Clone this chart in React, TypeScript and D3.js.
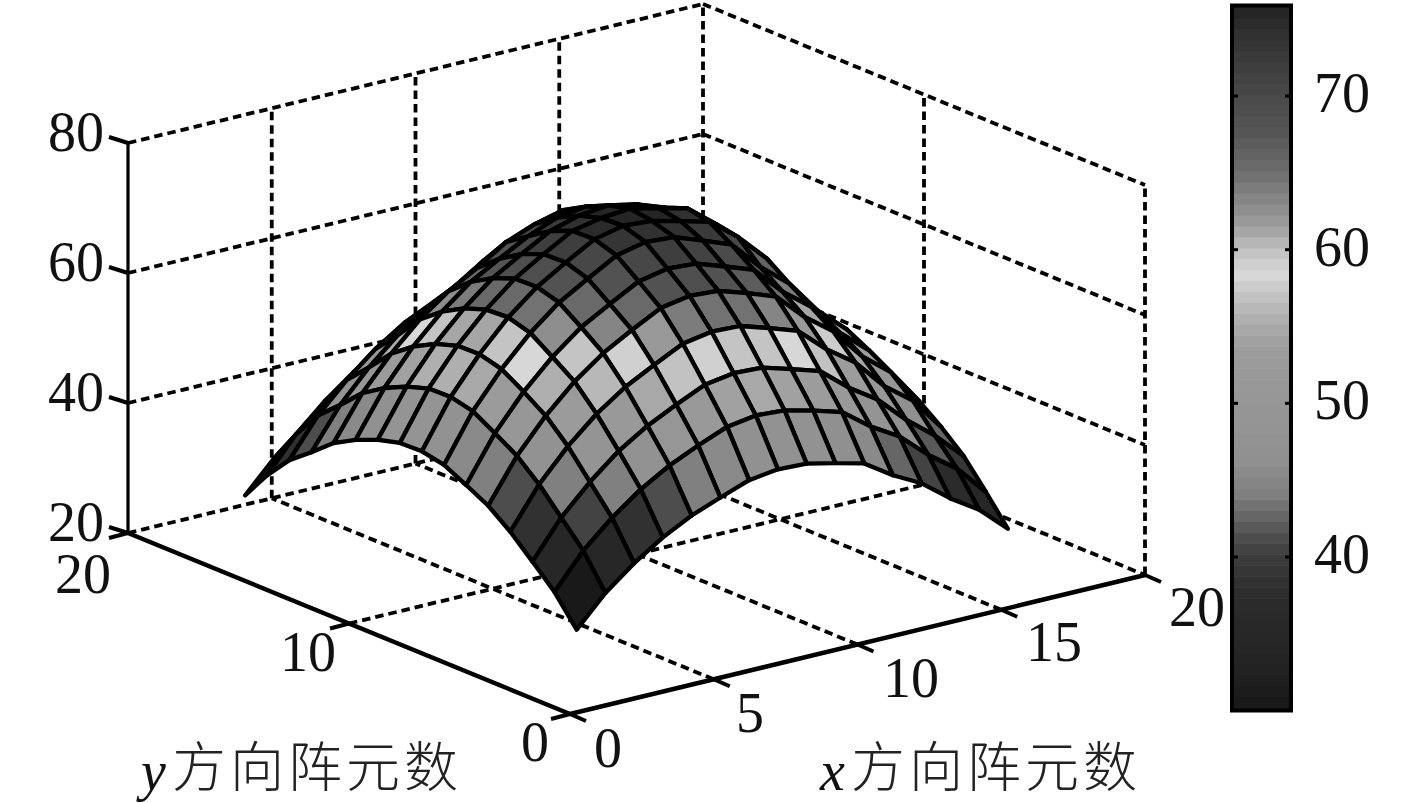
import React from "react";
import * as d3 from "d3";

const W = 1417, H = 803;

// Surface heights: rows are y = 1..16, columns are x = 1..16
const heights: number[][] = [
  [30.5,35.1,38.6,41.5,43.8,45.5,47.1,47.7,47.5,46.5,45.4,42.5,40.2,36.8,34.0,30.0],
  [34.9,40.2,44.2,47.5,50.1,52.1,53.9,54.6,54.3,53.2,51.9,48.6,46.0,42.1,38.9,34.3],
  [38.2,43.9,48.3,52.0,54.8,57.0,59.0,59.7,59.5,58.2,56.8,53.2,50.3,46.1,42.6,38.4],
  [41.4,47.6,52.4,56.3,59.4,61.7,63.9,64.7,64.5,63.1,61.6,57.7,54.6,49.9,46.6,41.4],
  [44.0,50.6,55.7,59.9,63.2,65.7,68.0,68.8,68.5,67.1,65.5,61.3,58.0,53.1,49.6,44.0],
  [45.8,52.7,58.0,62.3,65.8,68.3,70.7,71.6,71.3,69.8,68.2,63.8,60.4,55.3,51.6,46.0],
  [47.5,54.7,60.1,64.6,68.2,70.8,73.3,74.3,74.0,72.4,70.7,66.2,62.6,57.3,53.4,47.5],
  [48.2,55.5,61.0,65.6,69.2,71.9,74.4,75.4,75.1,74.0,72.8,69.4,65.0,58.1,53.7,48.0],
  [48.1,55.4,60.9,65.4,69.1,71.8,74.3,75.2,75.6,74.6,73.5,70.0,65.4,58.0,53.6,47.3],
  [47.2,54.3,59.8,64.2,67.8,70.4,72.9,74.2,74.7,73.8,72.2,69.2,64.7,57.0,52.6,46.4],
  [45.8,52.7,58.0,62.3,65.8,68.3,70.7,72.5,73.1,72.1,70.7,67.1,62.4,55.3,51.1,45.1],
  [43.9,50.5,55.5,59.7,63.0,65.5,68.4,70.1,71.2,70.2,68.3,64.0,57.8,53.0,48.9,43.2],
  [41.1,47.3,52.0,55.9,59.0,61.3,64.2,65.4,66.4,67.0,64.8,59.3,54.2,49.6,45.8,40.4],
  [38.5,44.3,48.7,52.4,55.3,57.4,59.4,61.2,61.7,61.0,59.3,53.6,50.7,46.4,42.9,37.9],
  [34.8,40.0,44.0,47.4,50.0,51.9,53.7,54.4,54.2,53.1,51.8,48.5,45.9,42.0,38.8,34.2],
  [30.3,34.9,38.3,41.2,43.5,45.2,46.8,47.4,47.2,46.2,45.1,42.2,39.9,36.5,33.8,29.8],
];

const xTicks = [0, 5, 10, 15, 20];
const yTicks = [0, 10, 20];
const zTicks = [20, 40, 60, 80];
const colorbarTicks = [40, 50, 60, 70];
const xGrid = [5, 10, 15];
const yGrid = [10];
const zGrid = [40, 60, 80];

const colormapValues = [30.2,33.3,37.6,40,41.5,43,44.1,46.3,49.8,53.5,55.6,57.4,58.5,60,61.1,62.1,63.7,65.4,67.6,70,74.1,75.8];
const colormapGreys = [24,36,44,60,80,108,128,144,150,156,176,200,218,192,168,149,128,106,85,74,48,34];

const xLabelPos: [number, number][] = [[608, 767], [750, 732], [911, 697], [1054, 661], [1197, 626]];
const yLabelPos: [number, number][] = [[535, 761], [308, 671], [83, 593]];
const colorbarLabelX = 1314;

const FONT = '"Liberation Serif", "Times New Roman", serif';
const CJK = '"Noto Sans CJK SC", sans-serif';
const labelChars = ["方", "向", "阵", "元", "数"];

// Projection, taken from the drawn box
const sx = d3.scaleLinear().domain([0, 20]).range([0, 575]);
const sxY = d3.scaleLinear().domain([0, 20]).range([0, -139]);
const syX = d3.scaleLinear().domain([0, 20]).range([0, -442]);
const syY = d3.scaleLinear().domain([0, 20]).range([0, -181]);
const sz = d3.scaleLinear().domain([20, 80]).range([0, -390]);
const ORIGIN: [number, number] = [570, 714];

const project = (x: number, y: number, z: number): [number, number] => [
  ORIGIN[0] + sx(x) + syX(y),
  ORIGIN[1] + sxY(x) + syY(y) + sz(z),
];

const grey = d3.scaleLinear().domain(colormapValues).range(colormapGreys).clamp(true);
const LEVELS = 64;
const zMin = 30.2, zMax = 75.8;
const level = d3.scaleQuantize<number>().domain([zMin, zMax]).range(d3.range(LEVELS));
const levelColor = (l: number) => {
  const g = Math.round(grey(zMin + ((l + 0.5) / LEVELS) * (zMax - zMin)));
  return `rgb(${g},${g},${g})`;
};

const barScale = d3.scaleLinear().domain([40, 70]).range([557, 96]);
const line = d3.line();

const Seg = ({ a, b, w = 4.5, dash = false }: { a: [number, number]; b: [number, number]; w?: number; dash?: boolean }) => (
  <line x1={a[0]} y1={a[1]} x2={b[0]} y2={b[1]} stroke="#000" strokeWidth={w} strokeDasharray={dash ? "8.5 5" : undefined} />
);

const Num = ({ x, y, anchor = "middle", children }: any) => (
  <text x={x} y={y} textAnchor={anchor} fontFamily={FONT} fontSize={56} fill="#111">{children}</text>
);

function AxisTitle({ letter, x, y }: { letter: string; x: number; y: number }) {
  return (
    <g>
      <text x={x} y={y} fontFamily={FONT} fontStyle="italic" fontSize={56} fill="#111">{letter}</text>
      {labelChars.map((c, i) => (
        <text key={c} x={x + 31 + i * 58} y={y - 3} fontFamily={CJK} fontWeight={300} fontSize={54} fill="#222">{c}</text>
      ))}
    </g>
  );
}

const DW = 3.8;

export default function App() {
  const cells: React.ReactNode[] = [];
  for (let j = 14; j >= 0; j--) {
    for (let i = 14; i >= 0; i--) {
      const pts = [
        project(i + 1, j + 1, heights[j][i]),
        project(i + 2, j + 1, heights[j][i + 1]),
        project(i + 2, j + 2, heights[j + 1][i + 1]),
        project(i + 1, j + 2, heights[j + 1][i]),
      ];
      cells.push(
        <path key={`${i}-${j}`} d={line(pts as any) + "Z"} fill={levelColor(level(heights[j][i]))} stroke="#000" strokeWidth={4.3} strokeLinejoin="round" />
      );
    }
  }

  const barLevels = d3.range(LEVELS);
  const barH = (barScale(zMin) - barScale(zMax)) / LEVELS;

  return (
    <svg width={W} height={H} viewBox={`0 0 ${W} ${H}`} style={{ position: "absolute", left: 0, top: 0, display: "block", background: "#fff" }}>
      {/* walls and floor */}
      <g>
        {[20, ...zGrid].map((z) => (
          <g key={z}>
            <Seg dash w={DW} a={project(0, 20, z)} b={project(20, 20, z)} />
            <Seg dash w={DW} a={project(20, 20, z)} b={project(20, 0, z)} />
          </g>
        ))}
        {[...xGrid, 20].map((x) => (
          <Seg key={x} dash w={DW} a={project(x, 20, 20)} b={project(x, 20, 80)} />
        ))}
        {yGrid.map((y) => (
          <Seg key={y} dash w={DW} a={project(20, y, 20)} b={project(20, y, 80)} />
        ))}
        <Seg dash w={DW} a={project(20, 0, 20)} b={project(20, 0, 80)} />
        {xGrid.map((x) => (
          <Seg key={x} dash w={DW} a={project(x, 0, 20)} b={project(x, 20, 20)} />
        ))}
        {yGrid.map((y) => (
          <Seg key={y} dash w={DW} a={project(0, y, 20)} b={project(20, y, 20)} />
        ))}
      </g>

      {/* axes */}
      <Seg a={project(0, 0, 20)} b={project(20, 0, 20)} />
      <Seg a={project(0, 0, 20)} b={project(0, 20, 20)} />
      <Seg w={3.2} a={project(0, 20, 20)} b={project(0, 20, 80)} />
      {xTicks.map((x) => {
        const p = project(x, 0, 20);
        return <Seg key={x} w={4} a={p} b={[p[0] + 16, p[1] + 7]} />;
      })}
      {yTicks.map((y) => {
        const p = project(0, y, 20);
        return <Seg key={y} w={4} a={p} b={[p[0] - 19, p[1] + 5]} />;
      })}
      {zTicks.map((z) => {
        const p = project(0, 20, z);
        return <Seg key={z} w={4} a={p} b={[p[0] - 19, p[1] - 6]} />;
      })}

      {/* surface */}
      <g>{cells}</g>

      {/* tick labels */}
      {zTicks.map((z) => {
        const p = project(0, 20, z);
        return <Num key={z} x={104} y={p[1] + 8} anchor="end">{z}</Num>;
      })}
      {xTicks.map((x, i) => (
        <Num key={x} x={xLabelPos[i][0]} y={xLabelPos[i][1]}>{x}</Num>
      ))}
      {yTicks.map((y, i) => (
        <Num key={y} x={yLabelPos[i][0]} y={yLabelPos[i][1]}>{y}</Num>
      ))}

      <AxisTitle letter="y" x={141} y={790} />
      <AxisTitle letter="x" x={820} y={790} />

      {/* colour bar */}
      <g>
        {barLevels.map((l) => (
          <rect key={l} x={1232} width={59} y={barScale(zMax) + (LEVELS - 1 - l) * barH} height={barH + (l === 0 ? 3 : 0.6)} fill={levelColor(l)} />
        ))}
        {colorbarTicks.map((v) => (
          <g key={v}>
            <Seg w={3} a={[1232, barScale(v)]} b={[1238, barScale(v)]} />
            <Seg w={3} a={[1285, barScale(v)]} b={[1291, barScale(v)]} />
          </g>
        ))}
        <rect x={1232} y={5.5} width={59} height={705} fill="none" stroke="#000" strokeWidth={4} />
        {colorbarTicks.map((v) => (
          <Num key={v} x={colorbarLabelX} y={barScale(v) + 16} anchor="start">{v}</Num>
        ))}
      </g>
    </svg>
  );
}
